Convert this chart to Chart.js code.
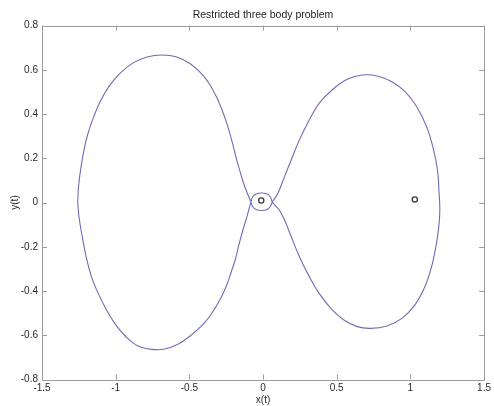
<!DOCTYPE html>
<html>
<head>
<meta charset="utf-8">
<script src="https://cdn.jsdelivr.net/npm/chart.js@4/dist/chart.umd.min.js"></script>
<style>
  html, body { margin: 0; padding: 0; background: #fff; }
  #wrap { width: 494px; height: 406px; }
</style>
</head>
<body>
<div id="wrap"><canvas id="c" width="494" height="406"></canvas></div>
<script>
// Orbit of the third body, traced in order (x(t), y(t))
const orbitX = [
  -1.258, -1.251, -1.238, -1.218, -1.191, -1.150, -1.103, -1.043, -0.969, -0.881,
  -0.787, -0.686, -0.585, -0.491, -0.404, -0.336, -0.283, -0.242, -0.209, -0.182,
  -0.155, -0.128, -0.082,
  -0.071, -0.047, -0.010, 0.027, 0.050, 0.063,
  0.101, 0.146, 0.191, 0.247, 0.314, 0.383, 0.474, 0.572, 0.673, 0.774,
  0.874, 0.964, 1.043, 1.110, 1.155, 1.184, 1.195, 1.200, 1.193, 1.173,
  1.144, 1.099, 1.031, 0.942, 0.841, 0.729, 0.639, 0.549, 0.460, 0.381,
  0.314, 0.247, 0.191, 0.146, 0.110, 0.063,
  0.050, 0.027, -0.010, -0.047, -0.071, -0.082,
  -0.110, -0.139, -0.166, -0.189, -0.216, -0.246, -0.283, -0.337, -0.404, -0.491,
  -0.578, -0.666, -0.754, -0.848, -0.929, -1.003, -1.063, -1.117, -1.164, -1.198,
  -1.225, -1.248, -1.258
];
const orbitY = [
  0.002, 0.079, 0.147, 0.228, 0.305, 0.386, 0.459, 0.527, 0.585, 0.631,
  0.658, 0.667, 0.658, 0.626, 0.572, 0.504, 0.427, 0.350, 0.273, 0.201,
  0.138, 0.079, 0.002,
  -0.018, -0.032, -0.036, -0.032, -0.018, 0.002,
  0.042, 0.117, 0.192, 0.283, 0.373, 0.450, 0.512, 0.557, 0.576, 0.572,
  0.546, 0.501, 0.433, 0.343, 0.245, 0.147, 0.042, -0.034, -0.109, -0.200,
  -0.290, -0.380, -0.463, -0.524, -0.558, -0.569, -0.561, -0.531, -0.478, -0.411,
  -0.335, -0.245, -0.154, -0.079, -0.034, 0.002,
  0.025, 0.038, 0.043, 0.038, 0.025, 0.002,
  -0.066, -0.130, -0.197, -0.260, -0.314, -0.373, -0.427, -0.490, -0.549, -0.601,
  -0.641, -0.662, -0.664, -0.649, -0.608, -0.550, -0.485, -0.413, -0.336, -0.252,
  -0.161, -0.070, 0.002
];

// The two primary bodies
const bodyX = [-0.012, 1.030];
const bodyY = [0.009, 0.014];

// Axis ticks
const xTicks = [-1.5, -1, -0.5, 0, 0.5, 1, 1.5];
const xTickLabels = ['-1.5', '-1', '-0.5', '0', '0.5', '1', '1.5'];
const yTicks = [-0.8, -0.6, -0.4, -0.2, 0, 0.2, 0.4, 0.6, 0.8];
const yTickLabels = ['-0.8', '-0.6', '-0.4', '-0.2', '0', '0.2', '0.4', '0.6', '0.8'];

const FONT = 'Arial, "Liberation Sans", Helvetica, sans-serif';
const AXIS_COLOR = '#9c9c9c';
const TICK_LEN = 5;

const orbitPoints = orbitX.map((x, i) => ({ x, y: orbitY[i] }));
const bodyPoints = bodyX.map((x, i) => ({ x, y: bodyY[i] }));

// Closed box around the plot with inward tick marks on all four sides
const boxPlugin = {
  id: 'boxTicks',
  afterDraw(chart) {
    const { ctx, chartArea: a, scales } = chart;
    ctx.save();
    ctx.strokeStyle = AXIS_COLOR;
    ctx.lineWidth = 1;
    ctx.beginPath();
    ctx.rect(Math.round(a.left) + 0.5, Math.round(a.top) + 0.5,
             Math.round(a.right - a.left), Math.round(a.bottom - a.top));
    xTicks.forEach(v => {
      const px = Math.round(scales.x.getPixelForValue(v)) + 0.5;
      ctx.moveTo(px, a.bottom); ctx.lineTo(px, a.bottom - TICK_LEN);
      ctx.moveTo(px, a.top); ctx.lineTo(px, a.top + TICK_LEN);
    });
    yTicks.forEach(v => {
      const py = Math.round(scales.y.getPixelForValue(v)) + 0.5;
      ctx.moveTo(a.left, py); ctx.lineTo(a.left + TICK_LEN, py);
      ctx.moveTo(a.right, py); ctx.lineTo(a.right - TICK_LEN, py);
    });
    ctx.stroke();
    ctx.restore();
  }
};

new Chart(document.getElementById('c'), {
  type: 'scatter',
  data: {
    datasets: [
      {
        label: 'orbit',
        data: orbitPoints,
        showLine: true,
        borderColor: '#6c6cba',
        borderWidth: 1.1,
        tension: 0.4,
        pointRadius: 0,
        fill: false
      },
      {
        label: 'bodies',
        data: bodyPoints,
        showLine: false,
        pointStyle: 'circle',
        pointRadius: 2.6,
        borderColor: '#3a3a3a',
        borderWidth: 1.3,
        backgroundColor: 'rgba(0,0,0,0)'
      }
    ]
  },
  options: {
    responsive: false,
    animation: false,
    layout: { padding: { left: 0, right: 6, top: 0, bottom: 0 } },
    plugins: {
      legend: { display: false },
      tooltip: { enabled: false },
      title: { display: false }
    },
    scales: {
      x: {
        type: 'linear',
        min: -1.5,
        max: 1.5,
        grid: { display: false, drawTicks: false },
        border: { display: false },
        ticks: {
          stepSize: 0.5,
          padding: 3,
          color: '#2a2a2a',
          font: { family: FONT, size: 10 },
          maxRotation: 0,
          callback: (v, i) => xTickLabels[i]
        },
        title: {
          display: true,
          text: 'x(t)',
          color: '#2a2a2a',
          font: { family: FONT, size: 10, lineHeight: 1.2 },
          padding: { top: 0, bottom: 0 }
        },
        afterFit(s) { s.height = 26.5; }
      },
      // Top axis carries the plot title, centred over the plotting area
      top: {
        type: 'linear',
        position: 'top',
        min: -1.5,
        max: 1.5,
        grid: { display: false, drawTicks: false },
        border: { display: false },
        ticks: { display: false },
        title: {
          display: true,
          text: 'Restricted three body problem',
          color: '#222',
          font: { family: FONT, size: 10.5, lineHeight: 1.2 },
          padding: { top: 9.2, bottom: 0 }
        },
        afterFit(s) { s.height = 25.5; }
      },
      y: {
        type: 'linear',
        min: -0.8,
        max: 0.8,
        grid: { display: false, drawTicks: false },
        border: { display: false },
        ticks: {
          stepSize: 0.2,
          padding: 4,
          color: '#2a2a2a',
          font: { family: FONT, size: 10 },
          callback: (v, i) => yTickLabels[i]
        },
        title: {
          display: true,
          text: 'y(t)',
          color: '#2a2a2a',
          font: { family: FONT, size: 10, lineHeight: 1.2 },
          padding: { top: 9, bottom: 0 }
        },
        afterFit(s) { s.width = 42; }
      }
    }
  },
  plugins: [boxPlugin]
});
</script>
</body>
</html>
